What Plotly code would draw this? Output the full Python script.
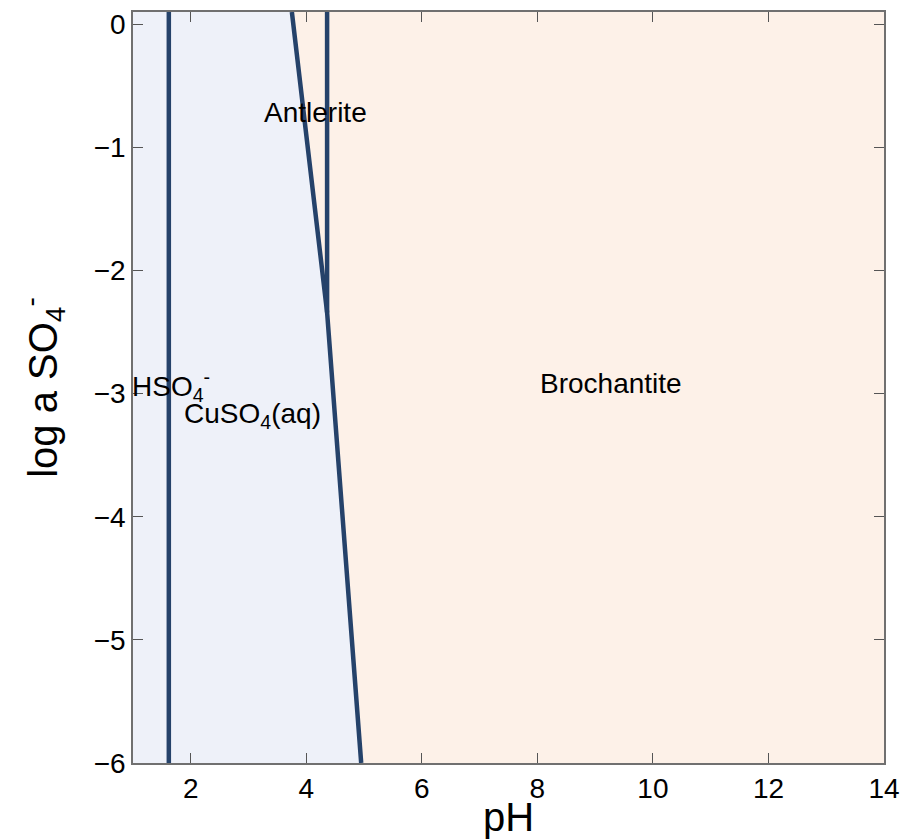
import plotly.graph_objects as go

# Predominance boundaries (pH, log a SO4--)
hso4_boundary_ph = [1.62, 1.62]
hso4_boundary_loga = [-6.0, 0.1]

cu_boundary_ph = [3.75, 4.36, 4.95]
cu_boundary_loga = [0.1, -2.34, -6.0]

antlerite_boundary_ph = [4.36, 4.36]
antlerite_boundary_loga = [-2.34, 0.1]

ph_range = [1.0, 14.0]
loga_range = [-6.0, 0.1]

# Field labels
field_names = ["Antlerite", "Brochantite", "HSO<sub>4</sub><sup>-</sup>", "CuSO<sub>4</sub>(aq)"]
field_ph = [4.16, 9.27, 1.65, 3.06]
field_loga = [-0.72, -2.92, -2.94, -3.18]

LINE_COLOR = "#25426a"
AQ_FILL = "#eef1f9"
SOLID_FILL = "#fdf1e8"
FONT = "Liberation Sans, Arial"

fig = go.Figure()

# Aqueous field: left of the copper boundary
aq_x = [ph_range[0], ph_range[0]] + cu_boundary_ph
aq_y = [loga_range[0], loga_range[1]] + cu_boundary_loga
fig.add_trace(go.Scatter(x=aq_x, y=aq_y, fill="toself", fillcolor=AQ_FILL,
                         mode="none", hoverinfo="skip", showlegend=False))

# Solid (mineral) field: right of the copper boundary
sol_x = cu_boundary_ph + [ph_range[1], ph_range[1]]
sol_y = cu_boundary_loga + [loga_range[0], loga_range[1]]
fig.add_trace(go.Scatter(x=sol_x, y=sol_y, fill="toself", fillcolor=SOLID_FILL,
                         mode="none", hoverinfo="skip", showlegend=False))

for xs, ys in [(hso4_boundary_ph, hso4_boundary_loga),
               (cu_boundary_ph, cu_boundary_loga),
               (antlerite_boundary_ph, antlerite_boundary_loga)]:
    fig.add_trace(go.Scatter(x=xs, y=ys, mode="lines",
                             line=dict(color=LINE_COLOR, width=4.5),
                             hoverinfo="skip", showlegend=False))

for name, px, py in zip(field_names, field_ph, field_loga):
    fig.add_annotation(x=px, y=py, text=name, showarrow=False,
                       font=dict(size=28, color="black", family=FONT))

axis_common = dict(
    showline=True, linecolor="#707070", linewidth=1.5, mirror="ticks",
    ticks="inside", ticklen=10, tickcolor="#555555", tickwidth=1,
    showgrid=False, zeroline=False, automargin=False,
    tickfont=dict(size=28, color="black", family=FONT),
)

fig.update_xaxes(range=ph_range, dtick=2, tick0=0,
                 title=dict(text="pH", font=dict(size=40, color="black", family=FONT),
                            standoff=14),
                 **axis_common)
fig.update_yaxes(range=loga_range, dtick=1, tick0=0,
                 title=dict(text="log a SO<sub>4</sub><sup>-</sup>",
                            font=dict(size=40, color="black", family=FONT),
                            standoff=24),
                 **axis_common)

fig.update_layout(
    width=903, height=839,
    margin=dict(l=133, r=19, t=12, b=76),
    plot_bgcolor="white", paper_bgcolor="white",
    font=dict(family=FONT, color="black"),
)

fig.write_html("out.html")
